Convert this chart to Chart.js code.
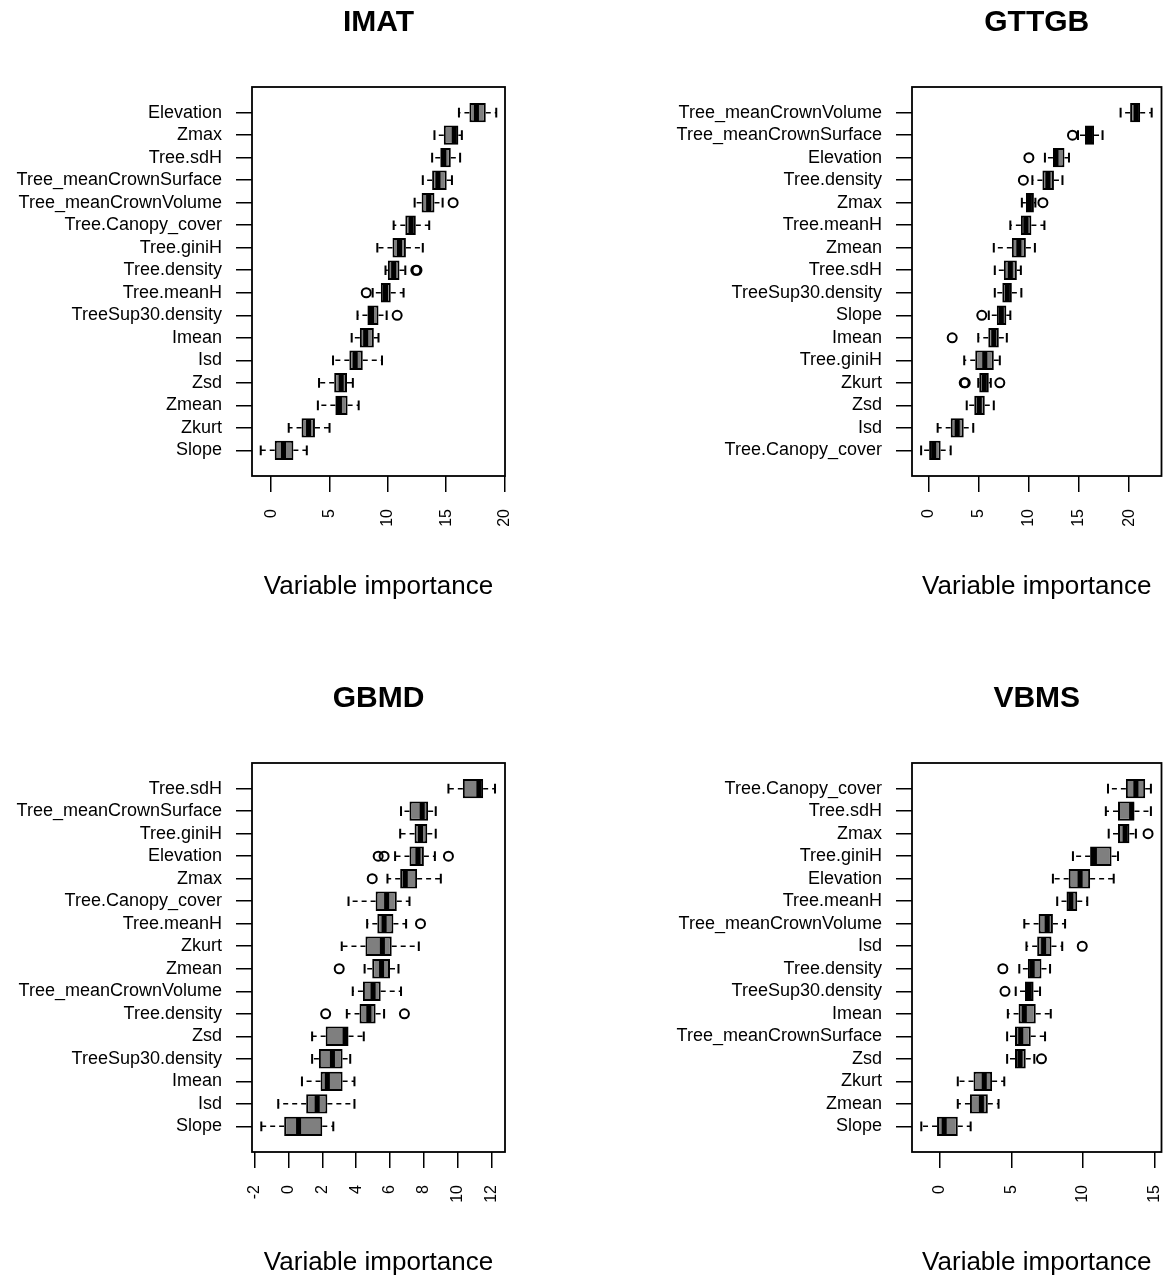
<!DOCTYPE html>
<html>
<head>
<meta charset="utf-8">
<script src="https://cdn.jsdelivr.net/npm/chart.js@4.4.1/dist/chart.umd.min.js"></script>
<style>
  body { margin: 0; background: #fff; width: 1168px; height: 1276px; position: relative; overflow: hidden; }
  canvas { position: absolute; }
</style>
</head>
<body>
<canvas id="imat" width="584" height="600" style="left:0;top:0"></canvas>
<canvas id="gttgb" width="584" height="600" style="left:584px;top:0"></canvas>
<canvas id="gbmd" width="584" height="600" style="left:0;top:676px"></canvas>
<canvas id="vbms" width="584" height="600" style="left:584px;top:676px"></canvas>
<script>
// IMAT
var imatLabels = ['Elevation','Zmax','Tree.sdH','Tree_meanCrownSurface','Tree_meanCrownVolume','Tree.Canopy_cover','Tree.giniH','Tree.density','Tree.meanH','TreeSup30.density','Imean','Isd','Zsd','Zmean','Zkurt','Slope'];
var imatLo  = [16.1, 14.0, 13.8, 13.0, 12.3, 10.5, 9.1, 9.8, 8.7, 7.4, 6.9, 5.3, 4.1, 4.0, 1.5, -0.9];
var imatQ1  = [17.0, 14.8, 14.5, 13.8, 12.9, 11.5, 10.4, 10.0, 9.4, 8.25, 7.6, 6.7, 5.4, 5.5, 2.6, 0.3];
var imatMed = [17.6, 15.7, 14.8, 14.3, 13.5, 12.0, 11.0, 10.5, 9.8, 8.6, 8.1, 7.2, 6.0, 5.85, 3.2, 1.05];
var imatQ3  = [18.4, 16.05, 15.4, 15.05, 14.0, 12.4, 11.55, 11.0, 10.25, 9.2, 8.8, 7.85, 6.5, 6.55, 3.75, 1.9];
var imatHi  = [19.3, 16.35, 16.2, 15.5, 14.7, 13.55, 13.0, 11.5, 11.35, 9.9, 9.2, 9.5, 7.0, 7.5, 5.0, 3.05];
var imatOut = [[5, 15.6], [8, 12.4], [8, 12.5], [9, 8.15], [10, 10.8]];
var imatTicks = [0, 5, 10, 15, 20];

// GTTGB
var gttgbLabels = ['Tree_meanCrownVolume','Tree_meanCrownSurface','Elevation','Tree.density','Zmax','Tree.meanH','Zmean','Tree.sdH','TreeSup30.density','Slope','Imean','Tree.giniH','Zkurt','Zsd','Isd','Tree.Canopy_cover'];
var gttgbLo  = [19.15, 14.9, 11.6, 10.35, 9.3, 8.15, 6.5, 6.6, 6.6, 6.0, 4.95, 3.55, 4.95, 3.8, 0.9, -0.75];
var gttgbQ1  = [20.1, 15.6, 12.4, 11.35, 9.7, 9.2, 8.3, 7.5, 7.35, 6.8, 5.95, 4.65, 5.05, 4.55, 2.2, 0.05];
var gttgbMed = [20.7, 16.05, 12.7, 11.9, 10.05, 9.7, 9.0, 8.15, 7.85, 7.25, 6.5, 5.6, 5.55, 5.05, 2.85, 0.5];
var gttgbQ3  = [21.1, 16.5, 13.55, 12.5, 10.5, 10.25, 9.7, 8.8, 8.3, 7.75, 7.0, 6.5, 6.0, 5.6, 3.5, 1.2];
var gttgbHi  = [22.25, 17.35, 14.0, 13.35, 10.65, 11.55, 10.6, 9.2, 9.25, 8.15, 7.8, 7.1, 6.2, 6.5, 4.45, 2.2];
var gttgbOut = [[2, 14.35], [3, 10.0], [4, 9.45], [5, 11.4], [10, 5.3], [11, 2.35], [13, 3.55], [13, 3.65], [13, 7.1]];
var gttgbTicks = [0, 5, 10, 15, 20];

// GBMD
var gbmdLabels = ['Tree.sdH','Tree_meanCrownSurface','Tree.giniH','Elevation','Zmax','Tree.Canopy_cover','Tree.meanH','Zkurt','Zmean','Tree_meanCrownVolume','Tree.density','Zsd','TreeSup30.density','Imean','Isd','Slope'];
var gbmdLo  = [9.45, 6.65, 6.6, 6.3, 5.85, 3.55, 4.65, 3.15, 4.5, 3.8, 3.45, 1.4, 1.4, 0.8, -0.6, -1.6];
var gbmdQ1  = [10.3, 7.15, 7.45, 7.15, 6.6, 5.15, 5.25, 4.55, 4.95, 4.4, 4.2, 2.2, 1.8, 1.9, 1.05, -0.25];
var gbmdMed = [11.25, 7.9, 7.8, 7.65, 6.9, 5.8, 5.65, 5.55, 5.5, 5.0, 4.75, 3.35, 2.6, 2.3, 1.7, 0.6];
var gbmdQ3  = [11.5, 8.25, 8.2, 8.0, 7.6, 6.4, 6.2, 6.1, 6.0, 5.45, 5.15, 3.55, 3.2, 3.2, 2.3, 2.0];
var gbmdHi  = [12.2, 8.7, 8.7, 8.65, 9.0, 7.15, 6.95, 7.7, 6.5, 6.65, 5.65, 4.45, 3.65, 3.9, 3.9, 2.65];
var gbmdOut = [[4, 5.3], [4, 5.65], [4, 9.45], [5, 4.95], [7, 7.8], [9, 3.0], [11, 2.2], [11, 6.85]];
var gbmdTicks = [-2, 0, 2, 4, 6, 8, 10, 12];

// VBMS
var vbmsLabels = ['Tree.Canopy_cover','Tree.sdH','Zmax','Tree.giniH','Elevation','Tree.meanH','Tree_meanCrownVolume','Isd','Tree.density','TreeSup30.density','Imean','Tree_meanCrownSurface','Zsd','Zkurt','Zmean','Slope'];
var vbmsLo  = [11.75, 11.6, 11.8, 9.3, 7.9, 8.2, 5.9, 6.05, 5.55, 5.3, 4.75, 4.7, 4.7, 1.25, 1.25, -1.3];
var vbmsQ1  = [13.0, 12.45, 12.45, 10.5, 9.0, 8.85, 6.9, 6.8, 6.15, 5.95, 5.5, 5.25, 5.25, 2.35, 2.1, -0.2];
var vbmsMed = [13.7, 13.4, 12.95, 10.8, 9.8, 9.15, 7.5, 7.25, 6.45, 6.25, 5.9, 5.65, 5.6, 3.1, 2.9, 0.3];
var vbmsQ3  = [14.35, 13.6, 13.25, 12.0, 10.5, 9.6, 7.9, 7.8, 7.1, 6.55, 6.7, 6.35, 6.0, 3.65, 3.35, 1.25];
var vbmsHi  = [14.75, 14.75, 13.7, 12.45, 12.15, 10.3, 8.75, 8.55, 7.7, 7.0, 7.75, 7.35, 6.6, 4.5, 4.1, 2.15];
var vbmsOut = [[3, 14.55], [8, 9.95], [9, 4.4], [10, 4.55], [13, 7.1]];
var vbmsTicks = [0, 5, 10, 15];

var FONT = "'Liberation Sans', Arial, Helvetica, sans-serif";

// whiskers, caps, medians and the frame, placed with the chart's own scales
var boxParts = {
    id: 'boxParts',
    afterDatasetsDraw: function(chart, args, opts) {
        var ctx = chart.ctx, x = chart.scales.x, y = chart.scales.y, a = chart.chartArea;
        var bars = chart.getDatasetMeta(0).data;
        ctx.save();
        ctx.strokeStyle = '#000';
        for (var i = 0; i < opts.med.length; i++) {
            var yc = y.getPixelForValue(i + 1);
            var h = bars[i].height / 2;
            var x1 = x.getPixelForValue(opts.q1[i]), x3 = x.getPixelForValue(opts.q3[i]);
            var xl = x.getPixelForValue(opts.lo[i]), xh = x.getPixelForValue(opts.hi[i]);
            ctx.lineWidth = 1.5;
            ctx.setLineDash([5, 4]);
            ctx.beginPath();
            ctx.moveTo(x1, yc); ctx.lineTo(xl, yc);
            ctx.moveTo(x3, yc); ctx.lineTo(xh, yc);
            ctx.stroke();
            ctx.setLineDash([]);
            ctx.lineWidth = 2;
            ctx.beginPath();
            ctx.moveTo(xl, yc - h / 2); ctx.lineTo(xl, yc + h / 2);
            ctx.moveTo(xh, yc - h / 2); ctx.lineTo(xh, yc + h / 2);
            ctx.stroke();
            var xm = x.getPixelForValue(opts.med[i]);
            ctx.lineWidth = 5;
            ctx.beginPath();
            ctx.moveTo(xm, yc - h + 1); ctx.lineTo(xm, yc + h - 1);
            ctx.stroke();
        }
        ctx.lineWidth = 1.8;
        ctx.strokeRect(a.left, a.top, a.right - a.left, a.bottom - a.top);
        ctx.restore();
    }
};

function make_boxplot(id, name, labels, lo, q1, med, q3, hi, out, ticks, xMin, xMax, yWidth, padRight) {
    var n = labels.length;
    var boxes = labels.map(function(l, i) { return {x: [q1[i], q3[i]], y: i + 1}; });
    var pts = out.map(function(o) { return {x: o[1], y: o[0]}; });
    var ctx = document.getElementById(id).getContext('2d');
    return new Chart(ctx, {
        type: 'bar',
        data: {
            datasets: [{
                type: 'bar',
                indexAxis: 'y',
                data: boxes,
                backgroundColor: '#7f7f7f',
                borderColor: '#000',
                borderWidth: 2,
                borderSkipped: false,
                barPercentage: 0.86,
                categoryPercentage: 1
            }, {
                type: 'scatter',
                data: pts,
                pointStyle: 'circle',
                pointRadius: 4.5,
                pointBorderWidth: 2,
                pointBackgroundColor: 'rgba(0,0,0,0)',
                pointBorderColor: '#000',
                showLine: false
            }]
        },
        options: {
            responsive: false,
            animation: false,
            events: [],
            layout: {padding: {left: 0, right: padRight, top: 0, bottom: 0}},
            plugins: {
                legend: {display: false},
                tooltip: {enabled: false},
                title: {
                    display: true, text: name, fullSize: false, color: '#000',
                    font: {family: FONT, size: 30, weight: 'bold', lineHeight: 1.2},
                    padding: {top: 5, bottom: 46}
                },
                boxParts: {lo: lo, q1: q1, med: med, q3: q3, hi: hi}
            },
            scales: {
                x: {
                    type: 'linear', min: xMin, max: xMax, offset: false,
                    afterBuildTicks: function(s) { s.ticks = ticks.map(function(v) { return {value: v}; }); },
                    afterFit: function(s) { s.height = 124; s.paddingLeft = 0; s.paddingRight = 0; },
                    grid: {offset: false, drawOnChartArea: false, drawTicks: true, tickLength: 16, color: '#000', lineWidth: 1.5},
                    border: {display: false},
                    ticks: {minRotation: 90, maxRotation: 90, autoSkip: false, padding: 17, color: '#000',
                            font: {family: FONT, size: 16}},
                    title: {display: true, text: 'Variable importance', color: '#000',
                            font: {family: FONT, size: 26, lineHeight: 1}, padding: {top: 0, bottom: 0}}
                },
                y: {
                    type: 'linear', reverse: true, offset: false,
                    min: 0.5 - 0.04 * n, max: n + 0.5 + 0.04 * n,
                    afterBuildTicks: function(s) { s.ticks = labels.map(function(l, i) { return {value: i + 1}; }); },
                    afterFit: function(s) { s.width = yWidth; s.paddingTop = 0; s.paddingBottom = 0; },
                    grid: {offset: false, drawOnChartArea: false, drawTicks: true, tickLength: 16, color: '#000', lineWidth: 1.5},
                    border: {display: false},
                    ticks: {autoSkip: false, padding: 14, color: '#000', font: {family: FONT, size: 18},
                            callback: function(v, i) { return labels[i]; }}
                }
            }
        },
        plugins: [boxParts]
    });
}

make_boxplot('imat', 'IMAT', imatLabels, imatLo, imatQ1, imatMed, imatQ3, imatHi, imatOut, imatTicks, -1.65, 20.05, 252, 79);
make_boxplot('gttgb', 'GTTGB', gttgbLabels, gttgbLo, gttgbQ1, gttgbMed, gttgbQ3, gttgbHi, gttgbOut, gttgbTicks, -1.66, 23.23, 328, 1);
make_boxplot('gbmd', 'GBMD', gbmdLabels, gbmdLo, gbmdQ1, gbmdMed, gbmdQ3, gbmdHi, gbmdOut, gbmdTicks, -2.15, 12.79, 252, 79);
make_boxplot('vbms', 'VBMS', vbmsLabels, vbmsLo, vbmsQ1, vbmsMed, vbmsQ3, vbmsHi, vbmsOut, vbmsTicks, -1.95, 15.49, 328, 1);
</script>
</body>
</html>
